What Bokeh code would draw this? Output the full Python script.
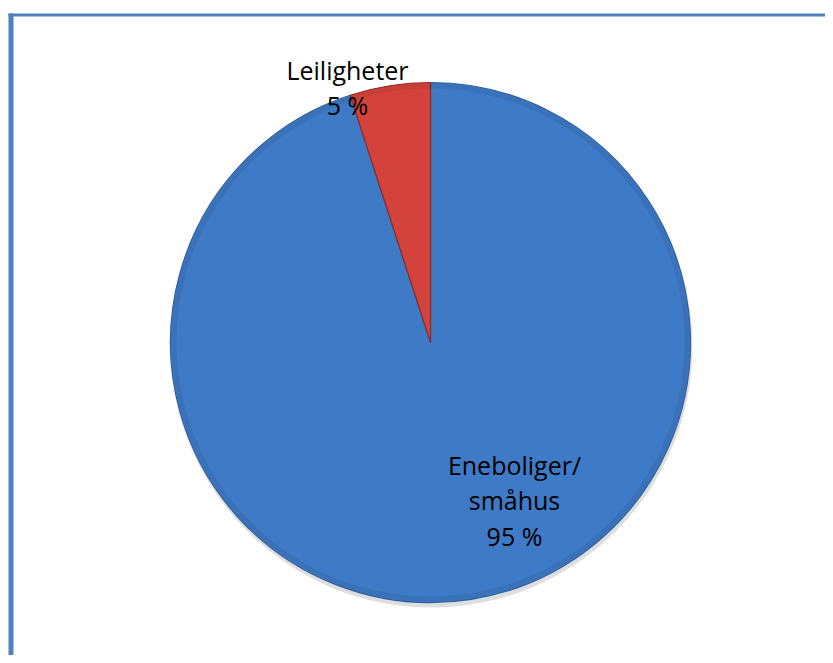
import math
from bokeh.plotting import figure
from bokeh.models import Range1d
from bokeh.core.properties import value
from bokeh.embed import file_html
from bokeh.resources import INLINE

# data
categories = ["Eneboliger/\nsmåhus", "Leiligheter"]
shares = [95, 5]
labels = ["Eneboliger/\nsmåhus\n95 %", "Leiligheter\n5 %"]
colors = ["#3E7AC6", "#D4433B"]
edge_colors = ["#2E5E9C", "#8E2A25"]

W, H = 825, 655
p = figure(width=W, height=H, output_backend="svg", toolbar_location=None,
           x_range=Range1d(0, W), y_range=Range1d(0, H), min_border=0)
p.axis.visible = False
p.grid.visible = False
p.outline_line_color = None
p.background_fill_color = "white"
p.border_fill_color = "white"

# frame (blue border left and top)
frame = "#4F81BD"
p.quad(left=8, right=13, bottom=-5, top=H - 13, fill_color=frame, line_color=None)
p.quad(left=8, right=W + 5, bottom=H - 16, top=H - 13, fill_color=frame, line_color=None)

cx, cy, r = 430, H - 342, 260

# shadow
p.wedge(x=cx + 1, y=cy - 4, radius=r + 1, start_angle=0, end_angle=2 * math.pi,
        fill_color="#000000", fill_alpha=0.13, line_color=None)

# wedges: first slice clockwise from 12 o'clock
total = sum(shares)
start = math.pi / 2
angles = []
for s in shares:
    ang = 2 * math.pi * s / total
    angles.append((start - ang, start))
    start -= ang

for (a0, a1), c, ec in zip(angles, colors, edge_colors):
    p.wedge(x=cx, y=cy, radius=r, start_angle=a0, end_angle=a1,
            fill_color=c, line_color=ec, line_width=1.2)

# subtle inner darkening ring for bevel effect
for (a0, a1) in angles:
    p.annular_wedge(x=cx, y=cy, inner_radius=r - 6, outer_radius=r - 1,
                    start_angle=a0, end_angle=a1, fill_color="#000000",
                    fill_alpha=0.06, line_color=None)

# labels
label_pos = [(514, H - 500), (347, H - 87)]
for (lx, ly), t in zip(label_pos, labels):
    p.text(x=[lx], y=[ly], text=[t], text_font=value("Open Sans"),
           text_font_size="25px", text_color="#000000", text_align="center",
           text_baseline="middle", text_line_height=1.03)

open("out.html", "w").write(file_html(p, INLINE))
